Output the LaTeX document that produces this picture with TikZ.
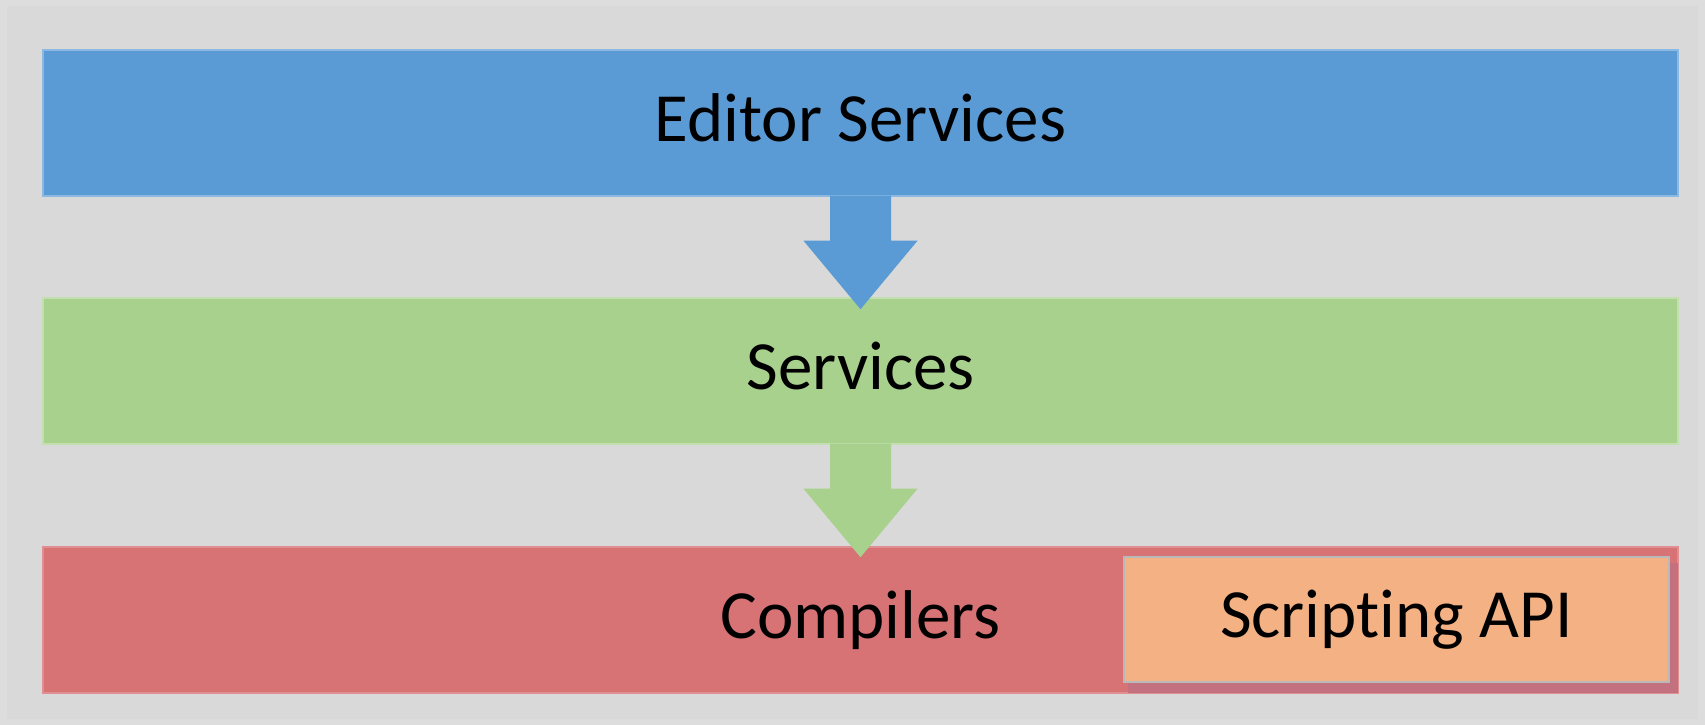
\documentclass[tikz,border=0pt]{standalone}
\usepackage{fontspec}
\setmainfont{Carlito}[Ligatures=NoCommon]
\usetikzlibrary{calc}
\definecolor{bgouter}{HTML}{DDDDDD}
\definecolor{bginner}{HTML}{D9D9D9}
\definecolor{cblue}{HTML}{5B9BD5}
\definecolor{cgreen}{HTML}{A9D18E}
\definecolor{cred}{HTML}{D77275}
\definecolor{corange}{HTML}{F4B183}
\definecolor{cshadow}{HTML}{C4717F}
\begin{document}
\begin{tikzpicture}[x=1pt,y=1pt,
  bar/.style={rectangle, minimum width=1635pt, minimum height=146pt, inner sep=0pt,
    font=\fontsize{69}{83}\selectfont, text height=44.4pt, text depth=8pt, line width=1.5pt},
  apibox/.style={rectangle, minimum width=545pt, minimum height=125pt, inner sep=0pt,
    fill=corange, draw=gray!55, line width=2.5pt,
    font=\fontsize{69}{83}\selectfont, text height=44.4pt, text depth=8pt}]
\useasboundingbox (0,0) rectangle (1705,725);
\fill[bgouter] (0,0) rectangle (1705,725);
\fill[bginner] (7,6) rectangle (1698,719);
% bars
\node[bar, fill=cblue, draw=cblue!70!white] (editor) at (860.5,602) {Editor Services};
\node[bar, fill=cgreen, draw=cgreen!70!white] (services) at (860.5,354) {Services};
\node[bar, fill=cred, draw=cred!80!white] (compilers) at (860.5,105) {Compilers};
% shadow of the scripting box
\fill[cshadow] (1128,32) rectangle (1678,162);
\node[apibox] (api) at (1396.5,105.5) {Scripting API};
% block arrows
\fill[cblue] ($(editor.south)+(-30.5,1)$) -- ($(editor.south)+(-30.5,-44)$)
  -- ($(editor.south)+(-57,-44)$) -- ($(services.north)+(0,-12)$)
  -- ($(editor.south)+(57,-44)$) -- ($(editor.south)+(30.5,-44)$)
  -- ($(editor.south)+(30.5,1)$) -- cycle;
\fill[cgreen] ($(services.south)+(-30.5,1)$) -- ($(services.south)+(-30.5,-44)$)
  -- ($(services.south)+(-57,-44)$) -- ($(compilers.north)+(0,-11)$)
  -- ($(services.south)+(57,-44)$) -- ($(services.south)+(30.5,-44)$)
  -- ($(services.south)+(30.5,1)$) -- cycle;
\end{tikzpicture}
\end{document}
